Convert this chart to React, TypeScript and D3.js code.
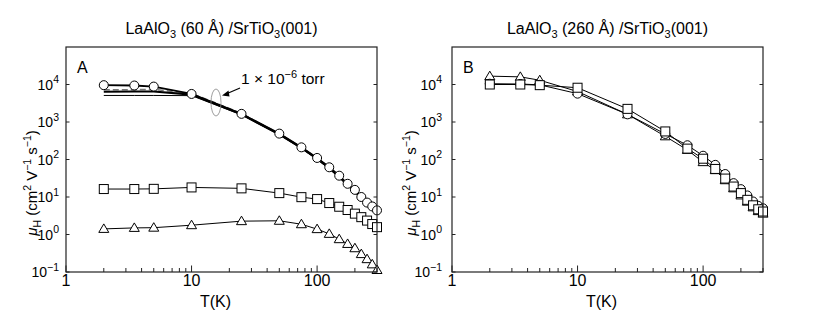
import React from "react";
import * as d3 from "d3";

const temps = [2, 3.5, 5, 10, 25, 50, 75, 100, 125, 150, 175, 200, 225, 250, 275, 300];

// Panel A (60 Å)
const aCircles = [9600, 9400, 8800, 5600, 1650, 490, 211, 110, 62, 37, 22.5, 15.5, 10, 7.1, 5.6, 4.4];
const aSquares = [16.3, 16.3, 16.5, 18, 17, 12.7, 9.9, 8.8, 6.9, 5.5, 4.5, 3.6, 2.9, 2.35, 1.9, 1.57];
const aTriangles = [1.41, 1.5, 1.52, 1.77, 2.27, 2.32, 1.88, 1.39, 1.04, 0.75, 0.56, 0.43, 0.3, 0.22, 0.16, 0.113];
const aLineThick = [6400, 6500, 6500, 5400, 1600, 470, 205, 106, 60, 35, 21, 14.5, 9.6, 6.9, 5.3, 4.2];
const aLineThin = [5100, 5100, 5100, 5050, 1550, 455, 195, 100, 56, 33, 20, 13.2, 9.0, 6.5, 5.0, 3.9];
const aLineDashed = [7300, 7300, 7400, 5800, 1700, 480, 208, 108, 61, 36, 22, 15, 9.8, 7.0, 5.5, 4.3];

// Panel B (260 Å)
const bTriangles = [16700, 16000, 13000, 6500, 1600, 415, 180, 85, 52, 28, 17, 11, 7.5, 5.3, 4.2, 3.6];
const bCircles = [10500, 10300, 9800, 5700, 1600, 480, 240, 126, 72, 41, 23.4, 16.2, 11, 7.6, 5.8, 5.0];
const bSquares = [10000, 10000, 9600, 8200, 2240, 560, 195, 105, 56, 31, 19, 12.7, 8.4, 6.0, 4.7, 4.1];

const yTickExps = [-1, 0, 1, 2, 3, 4];
const xMajor = [1, 10, 100];
const xMinor = [2, 3, 4, 5, 6, 7, 8, 9, 20, 30, 40, 50, 60, 70, 80, 90, 200, 300];

const FONT = "'Liberation Sans', Arial, Helvetica, sans-serif";
const TOP = 47;
const BOTTOM = 272;
const WIDTH = 311;

type Marker = "circle" | "square" | "triangle";

function MarkerShape({ kind, cx, cy }: { kind: Marker; cx: number; cy: number }) {
  const s = 4.5;
  if (kind === "circle") return <circle cx={cx} cy={cy} r={s} fill="#fff" stroke="#000" strokeWidth={1} />;
  if (kind === "square")
    return <rect x={cx - s} y={cy - s} width={2 * s} height={2 * s} fill="#fff" stroke="#000" strokeWidth={1} />;
  return (
    <path
      d={`M${cx},${cy - s - 0.5}L${cx + s + 0.5},${cy + s - 1}L${cx - s - 0.5},${cy + s - 1}Z`}
      fill="#fff"
      stroke="#000"
      strokeWidth={1}
    />
  );
}

function Series({
  x, y, values, marker, stroke = "#000", width = 1, dash,
}: {
  x: d3.ScaleLogarithmic<number, number>;
  y: d3.ScaleLogarithmic<number, number>;
  values: number[];
  marker?: Marker;
  stroke?: string;
  width?: number;
  dash?: string;
}) {
  const line = d3
    .line<number>()
    .x((_, i) => x(temps[i]))
    .y((v) => y(v));
  return (
    <g>
      <path d={line(values) || ""} fill="none" stroke={stroke} strokeWidth={width} strokeDasharray={dash} />
      {marker && values.map((v, i) => <MarkerShape key={i} kind={marker} cx={x(temps[i])} cy={y(v)} />)}
    </g>
  );
}

function Panel({
  x0, title, letter, yLabelX, tickGap, children,
}: {
  x0: number;
  title: React.ReactNode;
  letter: string;
  yLabelX: number;
  tickGap: number;
  children: (x: d3.ScaleLogarithmic<number, number>, y: d3.ScaleLogarithmic<number, number>) => React.ReactNode;
}) {
  const x = d3.scaleLog().domain([1, 300]).range([x0, x0 + WIDTH]);
  const y = d3.scaleLog().domain([0.1, 1e5]).range([BOTTOM, TOP]);
  const x1 = x0 + WIDTH;
  return (
    <g fontFamily={FONT}>
      <text x={x0 + WIDTH / 2} y={34} textAnchor="middle" fontSize={16}>
        {title}
      </text>
      <g>{children(x, y)}</g>
      <rect x={x0} y={TOP} width={WIDTH} height={BOTTOM - TOP} fill="none" stroke="#222" strokeWidth={1.2} />
      {yTickExps.map((e) => (
        <g key={e}>
          <line x1={x0} x2={x0 + 3.5} y1={y(Math.pow(10, e))} y2={y(Math.pow(10, e))} stroke="#222" />
          <line x1={x1} x2={x1 - 3.5} y1={y(Math.pow(10, e))} y2={y(Math.pow(10, e))} stroke="#222" />
          <text x={x0 - tickGap} y={y(Math.pow(10, e)) + 5} textAnchor="end" fontSize={14}>
            10
            <tspan fontSize={10.5} dy={-6.5}>
              {e < 0 ? "\u2212" + Math.abs(e) : e}
            </tspan>
          </text>
        </g>
      ))}
      {xMajor.map((t) => (
        <g key={t}>
          <line x1={x(t)} x2={x(t)} y1={BOTTOM} y2={BOTTOM - 6.5} stroke="#222" />
          <text x={x(t)} y={BOTTOM + 13.5} textAnchor="middle" fontSize={16}>
            {t}
          </text>
        </g>
      ))}
      {xMinor.map((t) => (
        <line key={t} x1={x(t)} x2={x(t)} y1={BOTTOM} y2={BOTTOM - 4} stroke="#222" />
      ))}
      <text x={x0 + WIDTH / 2 - 6} y={307} textAnchor="middle" fontSize={16}>
        T(K)
      </text>
      <text
        transform={`translate(${yLabelX},183) rotate(-90)`}
        textAnchor="middle"
        fontSize={15}
      >
        <tspan fontStyle="italic">μ</tspan>
        <tspan fontSize={10.5} dy={3.5}>H</tspan>
        <tspan dy={-3.5}> (cm</tspan>
        <tspan fontSize={10.5} dy={-6}>2</tspan>
        <tspan dy={6}> V</tspan>
        <tspan fontSize={10.5} dy={-6}>{"\u22121"}</tspan>
        <tspan dy={6}> s</tspan>
        <tspan fontSize={10.5} dy={-6}>{"\u22121"}</tspan>
        <tspan dy={6}>)</tspan>
      </text>
      <text x={x0 + 11} y={73} fontSize={16}>
        {letter}
      </text>
    </g>
  );
}

function Title({ thick }: { thick: string }) {
  return (
    <>
      LaAlO<tspan fontSize={11} dy={4}>3</tspan>
      <tspan dy={-4}> ({thick} Å) /SrTiO</tspan>
      <tspan fontSize={11} dy={4}>3</tspan>
      <tspan dy={-4}>(001)</tspan>
    </>
  );
}

export default function App() {
  return (
    <svg width={830} height={332} style={{ display: "block", position: "absolute", left: 0, top: 0, background: "#fff" }}>
      <rect width={830} height={332} fill="#fff" />
      <Panel x0={66} title={<Title thick="60" />} letter="A" yLabelX={37} tickGap={7}>
        {(x, y) => (
          <>
            <Series x={x} y={y} values={aLineThin} width={1} />
            <Series x={x} y={y} values={aLineDashed} stroke="#777" width={1.5} dash="6,3" />
            <Series x={x} y={y} values={aLineThick} width={2.2} />
            <Series x={x} y={y} values={aCircles} width={1.8} marker="circle" />
            <Series x={x} y={y} values={aSquares} marker="square" />
            <Series x={x} y={y} values={aTriangles} marker="triangle" />
            <ellipse cx={216} cy={102.5} rx={5} ry={13.5} fill="none" stroke="#888" strokeWidth={0.8} />
            <line x1={240} y1={88} x2={226} y2={94} stroke="#000" strokeWidth={1.2} />
            <path d="M222,95.5 L228.5,90.5 L229.5,96.5 Z" fill="#000" />
            <text x={241} y={84} fontSize={15.5}>
              1 × 10<tspan fontSize={11} dy={-6}>−6</tspan>
              <tspan dy={6}> torr</tspan>
            </text>
          </>
        )}
      </Panel>
      <Panel x0={452} title={<Title thick="260" />} letter="B" yLabelX={416} tickGap={10}>
        {(x, y) => (
          <>
            <Series x={x} y={y} values={bTriangles} marker="triangle" />
            <Series x={x} y={y} values={bCircles} marker="circle" />
            <Series x={x} y={y} values={bSquares} marker="square" />
          </>
        )}
      </Panel>
    </svg>
  );
}
